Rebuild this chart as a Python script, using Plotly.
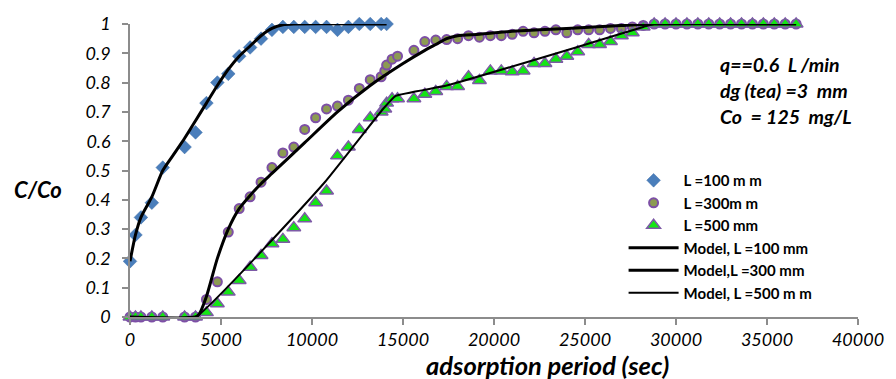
import plotly.graph_objects as go

# ---------------- data ----------------
t_100 = [0, 300, 600, 1200, 1800, 3000, 3600, 4200, 4800, 5400, 6000, 6600, 7200, 7800,
         8400, 9000, 9600, 10200, 10800, 11400, 12000, 12600, 13200, 13800, 14100]
c_100 = [0.19, 0.28, 0.34, 0.39, 0.51, 0.58, 0.63, 0.73, 0.80, 0.83, 0.89, 0.92, 0.95, 0.98,
         0.99, 0.99, 0.99, 0.99, 0.99, 0.98, 0.99, 1.0, 1.0, 1.0, 1.0]

t_300 = [0, 300, 600, 1200, 1800, 3000, 3600, 4200, 4800, 5400, 6000, 6600, 7200, 7800,
         8400, 9000, 9600, 10200, 10800, 11400, 12000, 12600, 13200, 13800, 14000, 14100,
         14400, 14700, 15600, 16200, 16800, 17400, 18000, 18600, 19200, 19800, 20400, 21000,
         21600, 22200, 22800, 23400, 24000, 24600, 25200, 25800, 26400, 27000, 27600, 28200,
         28800, 29400, 30000, 30600, 31200, 31800, 32400, 33000, 33600, 34200, 34800, 35400,
         36000, 36600]
c_300 = [0, 0, 0, 0, 0, 0, 0, 0.06, 0.12, 0.29, 0.37, 0.41, 0.46, 0.51,
         0.56, 0.58, 0.64, 0.68, 0.71, 0.72, 0.74, 0.78, 0.81, 0.82, 0.84, 0.86,
         0.88, 0.89, 0.91, 0.94, 0.945, 0.947, 0.95, 0.96, 0.955, 0.96, 0.96, 0.965,
         0.975, 0.97, 0.975, 0.98, 0.97, 0.98, 0.98, 0.98, 0.985, 0.985, 0.99, 0.995,
         1.0, 1.0, 1.0, 1.0, 1.0, 1.0, 1.0, 1.0, 1.0, 1.0, 1.0, 1.0,
         1.0, 1.0]

t_500 = [0, 300, 600, 1200, 1800, 3000, 3600, 4200, 4800, 5400, 6000, 6600, 7200, 7800,
         8400, 9000, 9600, 10200, 10800, 11400, 12000, 12600, 13200, 13800, 14000, 14100,
         14400, 14700, 15600, 16200, 16800, 17400, 18000, 18600, 19200, 19800, 20400, 21000,
         21600, 22200, 22800, 23400, 24000, 24600, 25200, 25800, 26400, 27000, 27600, 28200,
         28800, 29400, 30000, 30600, 31200, 31800, 32400, 33000, 33600, 34200, 34800, 35400,
         36000, 36600]
c_500 = [0, 0, 0, 0, 0, 0, 0, 0.015, 0.045, 0.085, 0.125, 0.17, 0.21, 0.25,
         0.265, 0.305, 0.335, 0.39, 0.43, 0.55, 0.58, 0.64, 0.68, 0.70, 0.71, 0.73,
         0.745, 0.745, 0.745, 0.76, 0.77, 0.787, 0.787, 0.82, 0.807, 0.84, 0.84, 0.837,
         0.84, 0.865, 0.865, 0.88, 0.89, 0.905, 0.93, 0.93, 0.94, 0.96, 0.97, 0.99,
         1.0, 1.0, 1.0, 1.0, 1.0, 1.0, 1.0, 1.0, 1.0, 1.0, 1.0, 1.0,
         1.0, 1.0]

# model curves
tm_100 = [0, 300, 600, 1200, 1800, 2400, 3000, 3600, 4200, 4800, 5400, 6000, 6600, 7200,
          7800, 8400, 9000, 14100]
cm_100 = [0.19, 0.28, 0.34, 0.41, 0.50, 0.555, 0.61, 0.67, 0.73, 0.79, 0.845, 0.89, 0.925,
          0.96, 0.985, 0.997, 1.0, 1.0]

tm_300 = [0, 3600, 3800, 4200, 4800, 5400, 6000, 6600, 7200, 7800, 9600, 11400, 13200,
          15000, 16200, 16800, 17400, 18000, 19200, 21000, 24000, 27000, 28800, 36600]
cm_300 = [0, 0, 0.01, 0.07, 0.20, 0.30, 0.37, 0.415, 0.455, 0.49, 0.595, 0.70, 0.79,
          0.865, 0.91, 0.93, 0.95, 0.96, 0.965, 0.975, 0.985, 0.995, 1.0, 1.0]

tm_500 = [0, 3600, 10700, 13900, 14600, 17400, 24500, 28200, 28800, 36600]
cm_500 = [0, 0, 0.46, 0.71, 0.755, 0.79, 0.92, 0.99, 1.0, 1.0]

legend_names = ["L =100 m m", "L =300m m", "L =500 mm",
                "Model, L =100 mm", "Model,L =300 mm", "Model, L =500 m m"]
x_ticks = [0, 5000, 10000, 15000, 20000, 25000, 30000, 35000, 40000]
y_ticks = [0, 0.1, 0.2, 0.3, 0.4, 0.5, 0.6, 0.7, 0.8, 0.9, 1]
info_lines = ["q==0.6\u00a0\u00a0L /min", "dg (tea) =3\u00a0\u00a0mm", "Co\u00a0\u00a0= 125\u00a0\u00a0mg/L"]

FONT = "Lato, 'Open Sans', sans-serif"

fig = go.Figure()
fig.add_trace(go.Scatter(x=t_100, y=c_100, mode="markers", name=legend_names[0],
                         marker=dict(symbol="diamond", size=10.5, color="#4A7EBB",
                                     line=dict(width=0.5, color="#3F6FA8")),
                         cliponaxis=False))
fig.add_trace(go.Scatter(x=t_300, y=c_300, mode="markers", name=legend_names[1],
                         marker=dict(symbol="circle", size=9, color="#8C9B52",
                                     line=dict(width=2, color="#7D4FA6")),
                         cliponaxis=False))
fig.add_trace(go.Scatter(x=t_500, y=c_500, mode="markers", name=legend_names[2],
                         marker=dict(symbol="triangle-up", size=12, color="#14E614",
                                     line=dict(width=1.5, color="#7D5AA6")),
                         cliponaxis=False))
fig.add_trace(go.Scatter(x=tm_100, y=cm_100, mode="lines", name=legend_names[3],
                         line=dict(color="black", width=3, shape="spline", smoothing=0.6),
                         cliponaxis=False))
fig.add_trace(go.Scatter(x=tm_300, y=cm_300, mode="lines", name=legend_names[4],
                         line=dict(color="black", width=3, shape="spline", smoothing=0.6),
                         cliponaxis=False))
fig.add_trace(go.Scatter(x=tm_500, y=cm_500, mode="lines", name=legend_names[5],
                         line=dict(color="black", width=2, shape="spline", smoothing=0.3),
                         cliponaxis=False))

axis_common = dict(showgrid=False, zeroline=False, showline=True, linecolor="#8C8C8C",
                   linewidth=1.5, ticks="outside", tickcolor="#8C8C8C", ticklen=6,
                   tickwidth=1.5,
                   tickfont=dict(family=FONT, size=18, color="black", style="italic"))

fig.update_layout(
    width=896, height=379,
    margin=dict(l=130, r=28, t=20, b=62),
    paper_bgcolor="white", plot_bgcolor="white",
    font=dict(family=FONT, color="black"),
    xaxis=dict(range=[0, 40000], tickvals=x_ticks, tickformat="d", **axis_common),
    yaxis=dict(range=[0, 1], tickvals=y_ticks, ticklabelstandoff=8, **axis_common),
    showlegend=True,
    legend=dict(x=0.678, y=0.522, xanchor="left", yanchor="top",
                bgcolor="rgba(0,0,0,0)", itemwidth=50, tracegroupgap=0,
                font=dict(family=FONT, size=15, color="black", weight="bold")),
)

annos = [
    dict(text="C/Co", x=-0.126, y=0.434, xref="paper", yref="paper", showarrow=False,
         xanchor="center", yanchor="middle",
         font=dict(family=FONT, size=22, weight="bold", style="italic")),
    dict(text="adsorption period (sec)", x=(553 - 130) / 737.7, y=-0.163, xref="paper",
         yref="paper", showarrow=False, xanchor="center", yanchor="middle",
         font=dict(family=FONT, size=25.5, weight="bold", style="italic")),
]
for i, txt in enumerate(info_lines):
    annos.append(dict(text=txt, x=(726 - 130) / 737.7, y=(316.7 - (61 + 26.5 * i)) / 296.7,
                      xref="paper", yref="paper", showarrow=False, xanchor="left",
                      yanchor="middle",
                      font=dict(family=FONT, size=19.5, weight="bold", style="italic")))
fig.update_layout(annotations=annos)

fig.write_html("out.html", post_script="document.body.style.margin='0';",
               config={"displayModeBar": False})
